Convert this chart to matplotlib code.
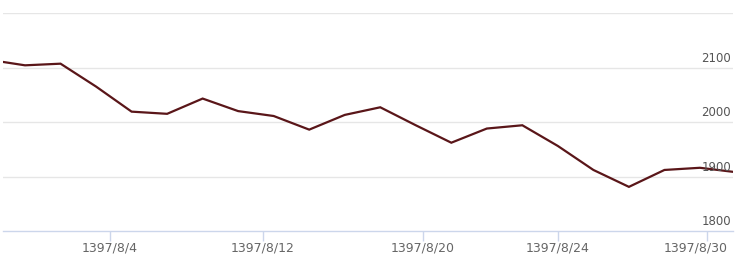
import matplotlib
matplotlib.use("Agg")
import matplotlib.pyplot as plt
from matplotlib.transforms import blended_transform_factory, offset_copy

# Data (trading-day index positions)
values = [2114, 2104, 2107, 2065, 2019, 2015, 2043, 2020, 2011, 1986,
          2013, 2027, 1994, 1962, 1988, 1994, 1956, 1912, 1881, 1912,
          1916, 1908]
tick_labels = ["1397/8/4", "1397/8/12", "1397/8/20", "1397/8/24", "1397/8/30"]
tick_pos = [3.39, 7.70, 12.20, 16.0, 20.2]
y_ticks = [1800, 1900, 2000, 2100, 2200]
y_labels = ["1800", "1900", "2000", "2100"]

W, H = 741, 271
fig = plt.figure(figsize=(W / 100, H / 100), dpi=100)
ax = fig.add_axes([3 / W, 1 - 231 / H, 730 / W, 218 / H])

x = list(range(len(values)))
ax.set_xlim(0.38, 20.93)
ax.set_ylim(1800, 2200)

for v in y_ticks[1:]:
    ax.axhline(v, color="#e6e6e6", lw=1.0, zorder=1)

ax.plot(x, values, color="#5a1619", lw=1.6, zorder=3, solid_joinstyle="miter")

for s in ["top", "right", "left"]:
    ax.spines[s].set_visible(False)
ax.spines["bottom"].set_color("#ccd6eb")
ax.spines["bottom"].set_linewidth(1.0)

ax.set_yticks([])
ax.set_xticks(tick_pos)
ax.set_xticklabels([])
ax.tick_params(axis="x", length=7, width=1.0, color="#ccd6eb")

# x labels
tr = blended_transform_factory(ax.transData, ax.transAxes)
for i, (p, lab) in enumerate(zip(tick_pos, tick_labels)):
    if i == len(tick_labels) - 1:
        t = offset_copy(tr, fig=fig, x=21 * 0.72, y=0, units="points")
        ax.text(p, -0.08, lab, transform=t, ha="right", va="center",
                fontsize=9, color="#666666", clip_on=False)
    else:
        ax.text(p, -0.08, lab, transform=tr, ha="center", va="center",
                fontsize=9, color="#666666", clip_on=False)

# y labels inside plot, right aligned, above gridlines
tr2 = blended_transform_factory(fig.transFigure, ax.transData)
for v, lab in zip(y_ticks, y_labels):
    t = offset_copy(tr2, fig=fig, x=0, y=2.0, units="points")
    ax.text(731 / W, v, lab, transform=t, ha="right", va="bottom",
            fontsize=8.5, color="#555555", zorder=4, clip_on=False)

fig.savefig("out.png", dpi=100)
